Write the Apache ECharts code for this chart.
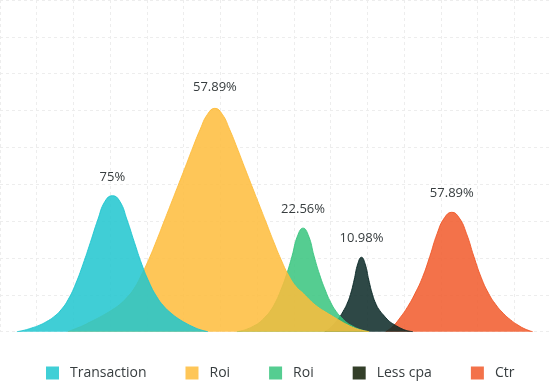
<!DOCTYPE html>
<html>
<head>
<meta charset="utf-8">
<script src="https://cdn.jsdelivr.net/npm/echarts@6/dist/echarts.min.js"></script>
<style>
html,body{margin:0;padding:0;background:#fff;}
#chart{width:551px;height:381px;}
</style>
</head>
<body>
<div id="chart"></div>
<script>
// Series names (legend) and peak labels
const seriesNames = ['Transaction', 'Roi', 'Roi', 'Less cpa', 'Ctr'];
const peakLabels = ['75%', '57.89%', '22.56%', '10.98%', '57.89%'];

// Curve points [x, y] (x: 0..150, y: 0..90)
const transaction = [[4.6,0],[6.6,0.4],[8.6,1.0],[10.6,1.7],[12.6,2.7],[14.6,4.0],[16.6,5.9],[18.6,8.8],[20.6,13.0],[22.6,18.3],[24.6,24.2],[26.6,30.3],[28.6,35.4],[30.6,36.9],[32.6,35.4],[34.6,30.3],[36.6,24.2],[38.6,18.3],[40.6,13.4],[42.6,9.6],[44.6,6.9],[46.6,5.0],[48.6,3.5],[50.6,2.3],[52.6,1.3],[54.6,0.5],[56.6,0]];
const roi = [[18.5,0],[20.5,0.8],[22.5,1.6],[24.5,2.6],[26.5,3.6],[28.5,4.7],[30.5,5.9],[32.5,7.3],[34.5,9.2],[36.5,11.7],[38.5,15.4],[40.5,19.6],[42.5,24.4],[44.5,29.5],[46.5,34.6],[48.5,39.7],[50.5,44.8],[52.5,50.0],[54.5,54.9],[56.5,59.0],[58.5,60.6],[60.5,59.0],[62.5,54.9],[64.5,50.0],[66.5,44.8],[68.5,39.7],[70.5,34.6],[72.5,29.5],[74.5,24.4],[76.5,19.6],[78.5,15.4],[80.5,12.3],[82.5,10.4],[84.5,8.4],[86.5,6.7],[88.5,5.4],[90.5,4.2],[92.5,3.0],[94.5,1.9],[96.5,1.0],[98.5,0.4],[100.5,0]];
const roiGreen = [[64.5,0],[66.0,0.3],[67.5,0.8],[69.0,1.5],[70.5,2.4],[72.0,3.8],[73.5,5.5],[75.0,8.0],[76.5,11.4],[78.0,15.5],[79.5,20.5],[81.0,26.0],[82.5,28.1],[84.0,26.0],[85.5,20.5],[87.0,15.5],[88.5,11.4],[90.0,8.0],[91.5,5.5],[93.0,3.8],[94.5,2.4],[96.0,1.5],[97.5,0.8],[99.0,0.3],[100.5,0]];
const lessCpa = [[88.4,0],[89.4,0.6],[90.4,1.5],[91.4,2.6],[92.4,3.9],[93.4,5.5],[94.4,7.4],[95.4,10.1],[96.4,14.0],[97.4,18.4],[98.4,20.2],[99.4,18.4],[100.4,14.0],[101.4,10.1],[102.4,7.4],[103.4,5.7],[104.4,4.5],[105.4,3.4],[106.4,2.5],[107.4,1.9],[108.4,1.3],[109.4,0.8],[110.4,0.4],[111.4,0.15],[112.4,0]];
const ctr = [[105.0,0],[107.0,1.5],[109.0,3.9],[111.0,6.8],[113.0,10.4],[115.0,14.7],[117.0,20.4],[119.0,26.6],[121.0,30.9],[123.0,32.4],[125.0,30.9],[127.0,26.6],[129.0,20.4],[131.0,14.7],[133.0,10.4],[135.0,7.3],[137.0,5.0],[139.0,3.2],[141.0,1.8],[143.0,0.7],[145.0,0]];

const allData = [transaction, roi, roiGreen, lessCpa, ctr];
const legendColors = ['#40CFD6', '#FEC658', '#55CD91', '#333F29', '#F3724A'];
const baseColors = ['#1EC6CF', '#FEBC3B', '#37C47E', '#092826', '#F1592A'];
const labelGaps = [12, 15, 12, 12, 12];

const chart = echarts.init(document.getElementById('chart'), null, {renderer: 'canvas'});

const usedNames = {};
const uniqueNames = seriesNames.map(n => {
  let nm = n;
  while (usedNames[nm]) nm += ' ';
  usedNames[nm] = true;
  return nm;
});

const series = allData.map((d, i) => {
  let peak = 0;
  d.forEach((p, j) => { if (p[1] > d[peak][1]) peak = j; });
  return {
    type: 'line',
    name: uniqueNames[i],
    z: 10 - i,
    smooth: 0.5,
    symbol: 'circle',
    symbolSize: 0,
    showSymbol: true,
    animation: false,
    itemStyle: {color: legendColors[i]},
    lineStyle: {color: baseColors[i], width: 1, opacity: 0.9},
    areaStyle: {color: baseColors[i], opacity: 0.85},
    emphasis: {disabled: true},
    label: {show: false},
    data: d.map((p, j) => j === peak ? {
      value: p,
      label: {
        show: true, position: 'top', distance: labelGaps[i],
        formatter: peakLabels[i],
        fontFamily: 'Open Sans', fontSize: 13, color: '#373d3f'
      }
    } : p)
  };
});

chart.setOption({
  backgroundColor: '#fff',
  animation: false,
  grid: {left: -1.6, right: -6.9, top: -4.0, bottom: 49.3, containLabel: false},
  xAxis: {
    type: 'value', min: 0, max: 150, interval: 10,
    axisLine: {show: false}, axisTick: {show: false}, axisLabel: {show: false},
    splitLine: {show: true, lineStyle: {color: '#ededed', type: [3, 3], width: 1}}
  },
  yAxis: {
    type: 'value', min: 0, max: 90, interval: 10,
    axisLine: {show: false}, axisTick: {show: false}, axisLabel: {show: false},
    splitLine: {show: true, lineStyle: {color: '#ededed', type: [3, 3], width: 1}}
  },
  legend: {
    data: uniqueNames,
    left: 46, top: 366, padding: 0,
    icon: 'rect', itemWidth: 13, itemHeight: 13, itemGap: 39,
    formatter: n => n.trim(),
    textStyle: {fontFamily: 'Open Sans', fontSize: 14, color: '#373d3f', padding: [0, 0, 0, 6]}
  },
  series: series
});
</script>
</body>
</html>
